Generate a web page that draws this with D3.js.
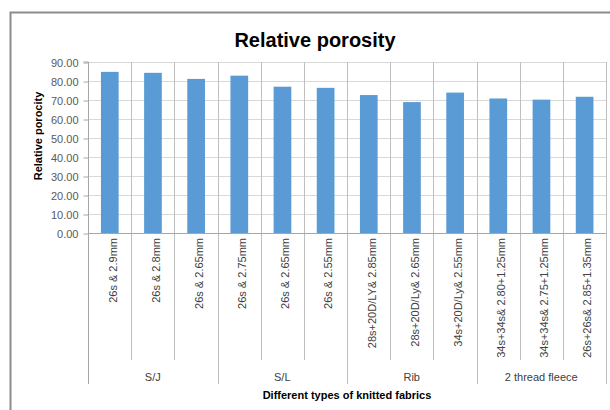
<!DOCTYPE html>
<html>
<head>
<meta charset="utf-8">
<script src="https://cdn.jsdelivr.net/npm/d3@7"></script>
<style>
  html, body { margin: 0; padding: 0; background: #fff; }
  svg { display: block; font-family: "Liberation Sans", Arial, sans-serif; }
</style>
</head>
<body>
<svg id="chart" width="610" height="410"></svg>
<script>
// Fabric samples, their group, and relative porosity (%)
const fabrics = [
  "26s & 2.9mm", "26s & 2.8mm", "26s & 2.65mm",
  "26s & 2.75mm", "26s & 2.65mm", "26s & 2.55mm",
  "28s+20D/LY& 2.85mm", "28s+20D/Ly& 2.65mm", "34s+20D/Ly& 2.55mm",
  "34s+34s& 2.80+1.25mm", "34s+34s& 2.75+1.25mm", "26s+26s& 2.85+1.35mm"
];
const groups = ["S/J", "S/J", "S/J", "S/L", "S/L", "S/L", "Rib", "Rib", "Rib",
  "2 thread fleece", "2 thread fleece", "2 thread fleece"];
const porosity = [84.8, 84.3, 81.1, 82.8, 77.0, 76.4, 72.6, 68.9, 73.9, 70.8, 70.2, 71.7];
const yTicks = [0, 10, 20, 30, 40, 50, 60, 70, 80, 90];

const svg = d3.select("#chart");
const plot = { left: 88, right: 606, top: 62, bottom: 233 };

// Chart area frame
svg.append("rect")
  .attr("x", 10.5).attr("y", 12.5)
  .attr("width", 620).attr("height", 420)
  .attr("fill", "#fff").attr("stroke", "#8c8c8c").attr("stroke-width", 2);

const idx = d3.range(fabrics.length);
const x = d3.scaleBand().domain(idx).range([plot.left, plot.right]).paddingInner(0).paddingOuter(0);
const y = d3.scaleLinear().domain([0, 90]).range([plot.bottom, plot.top]);

// Horizontal gridlines
svg.append("g").selectAll("line").data(yTicks).join("line")
  .attr("x1", plot.left).attr("x2", plot.right)
  .attr("y1", d => Math.round(y(d)) + 0.5).attr("y2", d => Math.round(y(d)) + 0.5)
  .attr("stroke", "#d9d9d9");

// Vertical category boundaries, extending into the label area
const boundaries = d3.range(fabrics.length + 1);
svg.append("g").selectAll("line").data(boundaries).join("line")
  .attr("x1", i => Math.round(i < fabrics.length ? x(i) : plot.right) + 0.5)
  .attr("x2", i => Math.round(i < fabrics.length ? x(i) : plot.right) + 0.5)
  .attr("y1", plot.top)
  .attr("y2", i => {
    const groupEdge = i === 0 || i === fabrics.length || groups[i] !== groups[i - 1];
    return groupEdge ? 384 : 360;
  })
  .attr("stroke", i => (i === 0 ? "#a6a6a6" : "#bfbfbf"));

// Bars
svg.append("g").selectAll("rect").data(porosity).join("rect")
  .attr("x", (d, i) => x(i) + x.bandwidth() * 0.3)
  .attr("width", x.bandwidth() * 0.41)
  .attr("y", d => y(d))
  .attr("height", d => y(0) - y(d))
  .attr("fill", "#5b9bd5");

// Y axis
const yAxis = d3.axisLeft(y).tickValues(yTicks).tickFormat(d3.format(".2f")).tickSize(5).tickPadding(5);
const ya = svg.append("g").attr("transform", `translate(${plot.left + 0.5},0.5)`).call(yAxis);
ya.select(".domain").attr("stroke", "#a6a6a6").attr("d", `M-5,${plot.top - 0.5}H0V${plot.bottom}`);
ya.selectAll(".tick line").attr("stroke", "#a6a6a6");
ya.selectAll(".tick text").attr("fill", "#595959").attr("font-size", 11)
  .attr("font-family", "'Liberation Sans', Arial, sans-serif");

// X axis baseline
svg.append("line")
  .attr("x1", plot.left).attr("x2", plot.right)
  .attr("y1", plot.bottom + 0.5).attr("y2", plot.bottom + 0.5)
  .attr("stroke", "#a6a6a6");

// Rotated category labels
svg.append("g").selectAll("text").data(fabrics).join("text")
  .attr("transform", (d, i) => `translate(${x(i) + x.bandwidth() / 2 + 3},238) rotate(-90)`)
  .attr("text-anchor", "end")
  .attr("dominant-baseline", "central")
  .attr("font-size", 11)
  .attr("fill", "#404040")
  .text(d => d);

// Group labels centered under each group
const groupNames = Array.from(new Set(groups));
svg.append("g").selectAll("text").data(groupNames).join("text")
  .attr("x", g => {
    const members = idx.filter(i => groups[i] === g);
    return (x(members[0]) + x(members[members.length - 1]) + x.bandwidth()) / 2;
  })
  .attr("y", 381)
  .attr("text-anchor", "middle")
  .attr("font-size", 11)
  .attr("fill", "#404040")
  .text(g => g);

// Axis titles
svg.append("text")
  .attr("x", (plot.left + plot.right) / 2).attr("y", 399)
  .attr("text-anchor", "middle")
  .attr("font-size", 11).attr("font-weight", "bold").attr("fill", "#000")
  .text("Different types of knitted fabrics");

svg.append("text")
  .attr("transform", "translate(42,136) rotate(-90)")
  .attr("text-anchor", "middle")
  .attr("font-size", 11).attr("font-weight", "bold").attr("fill", "#000")
  .text("Relative porocity");

// Chart title
svg.append("text")
  .attr("x", 315).attr("y", 47)
  .attr("text-anchor", "middle")
  .attr("font-size", 20).attr("font-weight", "bold").attr("fill", "#000")
  .text("Relative porosity");
</script>
</body>
</html>
